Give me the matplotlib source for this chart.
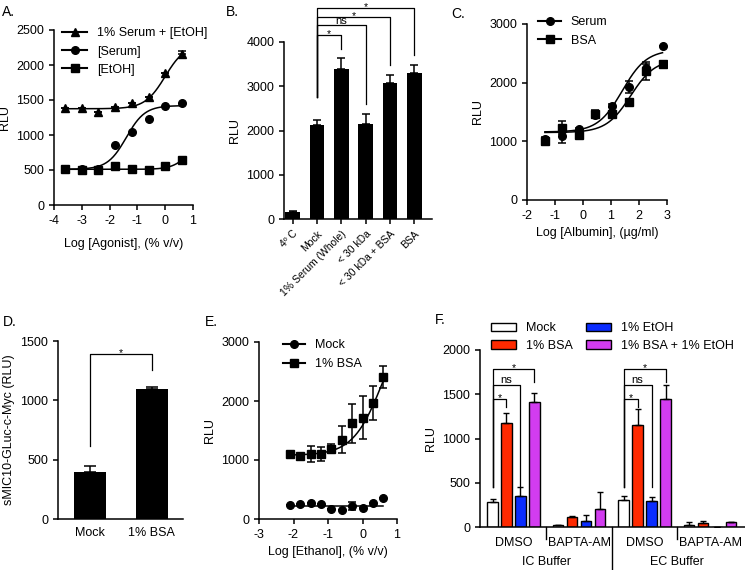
import numpy as np
import matplotlib.pyplot as plt
import matplotlib.transforms as mtransforms

plt.rcParams['font.family'] = ['Liberation Sans', 'DejaVu Sans']
plt.rcParams['font.size'] = 9
plt.rcParams['axes.unicode_minus'] = False
plt.rcParams['axes.linewidth'] = 1.1
plt.rcParams['xtick.major.width'] = 1.1
plt.rcParams['ytick.major.width'] = 1.1
plt.rcParams['xtick.major.size'] = 3.5
plt.rcParams['ytick.major.size'] = 3.5

# ---- panel A data ----
a_x = [-3.6, -3.0, -2.4, -1.8, -1.2, -0.6, 0.0, 0.6]
a_serum_etoh = [1380, 1380, 1330, 1400, 1450, 1540, 1880, 2150]
a_serum_etoh_err = [0, 0, 0, 0, 0, 0, 0, 55]
a_serum = [515, 510, 520, 860, 1050, 1230, 1410, 1450]
a_etoh = [515, 505, 500, 560, 515, 500, 560, 640]
# 4PL fit params: bottom, top, logEC50, hill
a_fit_serum_etoh = [1375, 2300, 0.0, 1.2]
a_fit_serum = [510, 1420, -1.4, 1.3]
a_fit_etoh = [510, 900, 0.8, 1.5]

# ---- panel B data ----
b_labels = ['4º C', 'Mock', '1% Serum (Whole)', '< 30 kDa', '< 30 kDa + BSA', 'BSA']
b_vals = [160, 2120, 3400, 2150, 3070, 3300]
b_err = [12, 110, 230, 230, 190, 180]
b_sig = ['*', 'ns', '*', '*']
b_sig_targets = [2, 3, 4, 5]

# ---- panel C data ----
c_x = [-1.36, -0.76, -0.16, 0.44, 1.04, 1.64, 2.24, 2.84]
c_serum = [1040, 1085, 1210, 1450, 1610, 1930, 2250, 2630]
c_serum_err = [40, 120, 20, 30, 30, 100, 60, 0]
c_bsa = [1000, 1230, 1100, 1466, 1470, 1670, 2200, 2320]
c_bsa_err = [60, 110, 30, 60, 30, 60, 150, 0]
c_fit_serum = [1160, 2560, 1.4, 1.0]
c_fit_bsa = [1150, 2400, 1.7, 1.0]

# ---- panel D data ----
d_labels = ['Mock', '1% BSA']
d_vals = [400, 1095]
d_err = [50, 15]

# ---- panel E data ----
e_x = [-2.1, -1.8, -1.5, -1.2, -0.9, -0.6, -0.3, 0.0, 0.3, 0.6]
e_mock = [232, 260, 277, 249, 170, 147, 221, 187, 266, 357]
e_mock_err = [0, 0, 0, 0, 0, 0, 60, 0, 0, 0]
e_bsa = [1109, 1075, 1098, 1098, 1194, 1341, 1624, 1720, 1964, 2405]
e_bsa_err = [0, 0, 136, 120, 75, 230, 330, 360, 290, 180]
e_fit_mock = 226
e_fit_bsa = [1080, 3600, 0.6, 1.0]

# ---- panel F data ----
f_groups = ['DMSO', 'BAPTA-AM', 'DMSO', 'BAPTA-AM']
f_buffers = ['IC Buffer', 'EC Buffer']
f_series = ['Mock', '1% BSA', '1% EtOH', '1% BSA + 1% EtOH']
f_colors = ['white', '#ff2a00', '#0a2cff', '#d23cf0']
f_vals = [
    [278, 20, 304, 27],
    [1176, 110, 1154, 45],
    [349, 65, 295, 0],
    [1412, 201, 1442, 53],
]
f_err = [
    [38, 5, 45, 30],
    [107, 10, 182, 20],
    [106, 75, 45, 0],
    [98, 194, 159, 8],
]


def fourpl(x, p):
    bottom, top, logec, hill = p
    return bottom + (top - bottom) / (1 + 10 ** ((logec - x) * hill))


def style(ax):
    ax.spines['top'].set_visible(False)
    ax.spines['right'].set_visible(False)
    ax.tick_params(direction='out')


def bracket(ax, x0, x1, y0, ytop, y1, label):
    ax.plot([x0, x0, x1, x1], [y0, ytop, ytop, y1], color='black', lw=0.9, clip_on=False)
    if label == '*':
        ax.annotate(label, ((x0 + x1) / 2, ytop), xytext=(0, -2.8), textcoords='offset points',
                    ha='center', va='bottom', fontsize=7.5, annotation_clip=False)
    else:
        ax.annotate(label, ((x0 + x1) / 2, ytop), xytext=(0, -0.5), textcoords='offset points',
                    ha='center', va='bottom', fontsize=8, annotation_clip=False)


W, H = 745, 570
fig = plt.figure(figsize=(W / 100, H / 100), dpi=100)


def add_ax(left, right, top, bottom):
    return fig.add_axes([left / W, 1 - bottom / H, (right - left) / W, (bottom - top) / H])


ms = 5.5
lw_fit = 1.1
eb = dict(capsize=3, elinewidth=1.1, capthick=1.1)

# ---------- A ----------
axA = add_ax(54, 193, 30, 205)
style(axA)
xs = np.linspace(-3.6, 0.6, 200)
axA.plot(xs, fourpl(xs, a_fit_serum_etoh), color='black', lw=lw_fit)
axA.plot(xs, fourpl(xs, a_fit_serum), color='black', lw=lw_fit)
axA.plot(xs, fourpl(xs, a_fit_etoh), color='black', lw=lw_fit)
axA.errorbar(a_x, a_serum_etoh, yerr=[np.zeros(len(a_x)), a_serum_etoh_err], fmt='^',
             color='black', ms=ms, clip_on=False, **eb)
axA.plot(a_x, a_serum, 'o', color='black', ms=ms, clip_on=False)
axA.plot(a_x, a_etoh, 's', color='black', ms=ms, clip_on=False)
axA.plot([], [], '-^', color='black', ms=ms, label='1% Serum + [EtOH]')
axA.plot([], [], '-o', color='black', ms=ms, label='[Serum]')
axA.plot([], [], '-s', color='black', ms=ms, label='[EtOH]')
axA.legend(loc='upper left', bbox_to_anchor=(-0.02, 1.08), frameon=False, handlelength=2.0,
           labelspacing=0.5)
axA.set_xlim(-4, 1)
axA.set_ylim(0, 2500)
axA.set_xticks(range(-4, 2))
axA.set_yticks(range(0, 2501, 500))
axA.set_xlabel('Log [Agonist], (% v/v)', labelpad=8)
axA.set_ylabel('RLU')

# ---------- B ----------
axB = add_ax(284, 432, 42, 219)
style(axB)
bx = np.arange(len(b_vals))
axB.bar(bx, b_vals, width=0.6, color='black')
axB.errorbar(bx, b_vals, yerr=[np.zeros(len(bx)), b_err], fmt='none', ecolor='black', **eb)
axB.set_xlim(-0.35, 5.72)
axB.set_ylim(0, 4000)
axB.set_yticks(range(0, 4001, 1000))
axB.set_xticks(bx)
axB.set_xticklabels(b_labels, rotation=45, ha='right', rotation_mode='anchor', fontsize=7.5)
axB.set_ylabel('RLU')
levels = [4160, 4380, 4570, 4765]
for k, (t, lab) in enumerate(zip(b_sig_targets, b_sig)):
    bracket(axB, 1, t, 2750, levels[k], b_vals[t] + b_err[t] + 220, lab)

# ---------- C ----------
axC = add_ax(527, 667, 24, 200)
style(axC)
xs = np.linspace(-1.36, 2.84, 200)
axC.plot(xs, fourpl(xs, c_fit_serum), color='black', lw=lw_fit)
axC.plot(xs, fourpl(xs, c_fit_bsa), color='black', lw=lw_fit)
axC.errorbar(c_x, c_serum, yerr=c_serum_err, fmt='o', color='black', ms=ms, **eb)
axC.errorbar(c_x, c_bsa, yerr=c_bsa_err, fmt='s', color='black', ms=ms, **eb)
hC1, = axC.plot([], [], '-o', color='black', ms=ms)
hC2, = axC.plot([], [], '-s', color='black', ms=ms)
axC.legend([hC1, hC2], ['Serum', 'BSA'], loc='upper left', bbox_to_anchor=(0.0, 1.11),
           frameon=False, handlelength=1.8, labelspacing=0.55)
axC.set_xlim(-2, 3)
axC.set_ylim(0, 3000)
axC.set_xticks(range(-2, 4))
axC.set_yticks(range(0, 3001, 1000))
axC.set_xlabel('Log [Albumin], (µg/ml)')
axC.set_ylabel('RLU')

# ---------- D ----------
axD = add_ax(58, 183, 341, 519)
style(axD)
dx = np.arange(len(d_vals))
axD.bar(dx, d_vals, width=0.52, color='black')
axD.errorbar(dx, d_vals, yerr=[np.zeros(2), d_err], fmt='none', ecolor='black', capsize=4,
             elinewidth=1.1, capthick=1.1)
axD.set_xlim(-0.51, 1.5)
axD.set_ylim(0, 1500)
axD.set_yticks(range(0, 1501, 500))
axD.set_xticks(dx)
axD.set_xticklabels(d_labels)
axD.tick_params(axis='x', length=0, pad=6)
axD.set_ylabel('sMIC10-GLuc-c-Myc (RLU)')
bracket(axD, 0, 1, 611, 1387, 1255, '*')

# ---------- E ----------
axE = add_ax(259, 397, 342, 519)
style(axE)
xs = np.linspace(-2.1, 0.6, 200)
axE.plot([-2.1, 0.6], [e_fit_mock, e_fit_mock], color='black', lw=lw_fit)
axE.plot(xs, fourpl(xs, e_fit_bsa), color='black', lw=lw_fit)
axE.errorbar(e_x, e_mock, yerr=e_mock_err, fmt='o', color='black', ms=ms, **eb)
axE.errorbar(e_x, e_bsa, yerr=e_bsa_err, fmt='s', color='black', ms=ms, **eb)
axE.plot([], [], '-o', color='black', ms=ms, label='Mock')
axE.plot([], [], '-s', color='black', ms=ms, label='1% BSA')
axE.legend(loc='upper left', bbox_to_anchor=(0.09, 1.08), frameon=False, handlelength=1.8,
           labelspacing=0.55)
axE.set_xlim(-3, 1)
axE.set_ylim(0, 3000)
axE.set_xticks(range(-3, 2))
axE.set_yticks(range(0, 3001, 1000))
axE.set_xlabel('Log [Ethanol], (% v/v)')
axE.set_ylabel('RLU')

# ---------- F ----------
axF = add_ax(480, 745, 350, 527)
axF.spines['top'].set_visible(False)
axF.spines['right'].set_visible(False)
centers = np.array([0.0, 4.7, 9.4, 14.1])
offsets = [-1.5, -0.5, 0.5, 1.5]
for s in range(4):
    xs_f = centers + offsets[s]
    axF.bar(xs_f, f_vals[s], width=0.75, color=f_colors[s], edgecolor='black', linewidth=1.0,
            label=f_series[s])
    axF.errorbar(xs_f, f_vals[s], yerr=[np.zeros(4), f_err[s]], fmt='none', ecolor='black',
                 capsize=2.5, elinewidth=1.0, capthick=1.0)
axF.set_xlim(-2.4, 16.6)
axF.set_ylim(0, 2000)
axF.set_yticks(range(0, 2001, 500))
axF.set_xticks(centers)
axF.set_xticklabels(f_groups)
axF.tick_params(axis='x', length=0, pad=7)
axF.tick_params(axis='y', direction='out')
axF.set_ylabel('RLU')
trans = mtransforms.blended_transform_factory(axF.transData, axF.transAxes)
for sx in [2.35, 11.75]:
    axF.plot([sx, sx], [0, -0.07], color='black', lw=1.0, transform=trans, clip_on=False)
axF.plot([7.05, 7.05], [0, -0.26], color='black', lw=1.0, transform=trans, clip_on=False)
for k, lab in enumerate(f_buffers):
    axF.text((centers[2 * k] + centers[2 * k + 1]) / 2, -0.2, lab, transform=trans,
             ha='center', va='center')
for g in [0, 2]:
    c0 = centers[g]
    bracket(axF, c0 - 1.5, c0 - 0.5, 455, 1445, 1360, '*')
    bracket(axF, c0 - 1.5, c0 + 0.5, 455, 1610, 450, 'ns')
    bracket(axF, c0 - 1.5, c0 + 1.5, 455, 1780, 1640, '*')
axF.legend(loc='upper left', bbox_to_anchor=(0.0, 1.22), ncol=2, frameon=False,
           handlelength=2.0, handleheight=0.7, columnspacing=1.0, labelspacing=0.45)

# panel letters
for txt, x, y in [('A.', 2, 12), ('B.', 226, 12), ('C.', 451, 14),
                  ('D.', 3, 322), ('E.', 205, 322), ('F.', 435, 320)]:
    fig.text(x / W, 1 - y / H, txt, fontsize=10, ha='left', va='center')

fig.savefig('out.png', dpi=100)
